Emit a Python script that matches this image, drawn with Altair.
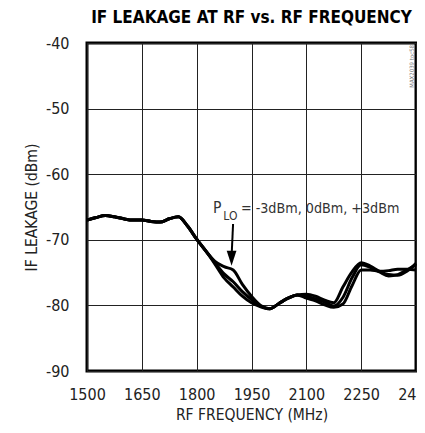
import altair as alt
import pandas as pd

freq = [1500, 1525, 1550, 1575, 1600, 1625, 1650, 1675, 1700, 1725, 1750, 1775,
        1800, 1825, 1850, 1875, 1900, 1925, 1950, 1975, 2000, 2025, 2050, 2075,
        2100, 2125, 2150, 2175, 2200, 2225, 2250, 2275, 2300, 2325, 2350, 2375, 2400]

p_m3 = [-67.0, -66.6, -66.3, -66.5, -66.8, -67.0, -67.0, -67.2, -67.3, -66.8, -66.5, -67.9,
        -69.9, -71.7, -73.3, -74.1, -74.6, -76.8, -78.6, -80.0, -80.5, -79.7, -78.9, -78.4,
        -78.3, -78.6, -79.2, -79.6, -77.2, -74.9, -73.5, -74.0, -74.8, -75.3, -75.4, -74.8, -73.6]
p_0 = [-67.0, -66.6, -66.3, -66.5, -66.8, -67.0, -67.0, -67.2, -67.3, -66.8, -66.5, -67.9,
       -69.9, -71.7, -73.5, -75.2, -76.4, -77.9, -79.1, -80.1, -80.5, -79.7, -78.9, -78.4,
       -78.6, -79.0, -79.5, -80.1, -78.8, -75.8, -73.8, -74.2, -74.9, -75.5, -75.3, -74.6, -73.8]
p_p3 = [-67.0, -66.6, -66.3, -66.5, -66.8, -67.0, -67.0, -67.2, -67.3, -66.8, -66.5, -67.9,
        -69.9, -71.7, -73.7, -75.8, -77.2, -78.6, -79.6, -80.2, -80.5, -79.7, -78.9, -78.4,
        -78.9, -79.3, -79.9, -80.3, -79.8, -77.0, -74.6, -74.6, -74.8, -74.7, -74.5, -74.5, -74.6]

series_names = ["-3dBm", "0dBm", "+3dBm"]
x_ticks = [1500, 1650, 1800, 1950, 2100, 2250, 2400]
y_ticks = [-90, -80, -70, -60, -50, -40]

title_text = "IF LEAKAGE AT RF vs. RF FREQUENCY"
x_title = "RF FREQUENCY (MHz)"
y_title = "IF LEAKAGE (dBm)"

# annotation: text pieces (freq, dB) in data coordinates
ann_text = ["P", "LO", "= -3dBm, 0dBm, +3dBm"]
ann_x = [1845, 1873, 1921]
ann_y = [-65.95, -66.95, -65.95]
ann_size = [15.5, 12, 14.2]
arrow_x = [1899.6, 1895.5]
arrow_y = [-67.6, -72.5]
head_x = [1895.5]
head_y = [-72.8]
watermark = "MAX2039 toc58"

FONT = "Liberation Sans Narrow, DejaVu Sans Condensed, sans-serif"

rows = []
for name, vals in zip(series_names, [p_m3, p_0, p_p3]):
    for f, v in zip(freq, vals):
        rows.append({"freq": f, "val": v, "series": name})
df = pd.DataFrame(rows)

xs = alt.Scale(domain=[1500, 2400], nice=False, zero=False)
ys = alt.Scale(domain=[-90, -40], nice=False, zero=False)

lines = alt.Chart(df).mark_line(color="black", strokeWidth=3, interpolate="monotone").encode(
    x=alt.X("freq:Q", scale=xs,
            axis=alt.Axis(values=x_ticks, title=x_title, labelExpr="'' + datum.value",
                          ticks=False, domain=False,
                          grid=True, gridColor="#222", gridWidth=1, labelPadding=15,
                          titlePadding=5, labelFlush=False, labelOverlap=False)),
    y=alt.Y("val:Q", scale=ys,
            axis=alt.Axis(values=y_ticks, title=y_title, labelExpr="'' + datum.value",
                          ticks=False, domain=False,
                          grid=True, gridColor="#222", gridWidth=1, labelPadding=18,
                          titlePadding=6, labelFlush=False, labelOverlap=False)),
    detail="series:N",
)

tdf = pd.DataFrame({"t": ann_text, "x": ann_x, "y": ann_y, "s": ann_size})
texts = alt.Chart(tdf).mark_text(align="left", baseline="alphabetic", font=FONT, color="#333").encode(
    x=alt.X("x:Q", scale=xs), y=alt.Y("y:Q", scale=ys), text="t:N",
    size=alt.Size("s:Q", scale=None, legend=None),
)

adf = pd.DataFrame({"x": arrow_x, "y": arrow_y})
arrow = alt.Chart(adf).mark_line(color="black", strokeWidth=2).encode(
    x=alt.X("x:Q", scale=xs), y=alt.Y("y:Q", scale=ys))

hdf = pd.DataFrame({"x": head_x, "y": head_y})
head = alt.Chart(hdf).mark_point(shape="M-0.65,-1L0.65,-1L0,1Z", filled=True, size=225,
                                 color="black", opacity=1).encode(
    x=alt.X("x:Q", scale=xs), y=alt.Y("y:Q", scale=ys))

wm = alt.Chart(pd.DataFrame({"t": [watermark]})).mark_text(
    angle=270, fontSize=6, font=FONT, color="#777", align="right", baseline="middle").encode(
    text="t:N", x=alt.value(325), y=alt.value(2))

chart = alt.layer(lines, arrow, head, texts, wm).properties(
    width=329, height=328,
    title=alt.TitleParams(title_text, font=FONT, fontSize=17, fontWeight="bold", color="black",
                          anchor="middle", offset=8),
    autosize=alt.AutoSizeParams(type="none"),
    padding={"left": 79, "top": 35, "right": 1, "bottom": 54},
).configure_view(stroke="black", strokeWidth=3).configure_axis(
    labelFont=FONT, labelFontSize=16, labelColor="#222", titleFont=FONT, titleFontSize=15.5,
    titleFontWeight="normal", titleColor="#222",
)

chart.save("out.html", embed_options={"renderer": "svg", "actions": False})
